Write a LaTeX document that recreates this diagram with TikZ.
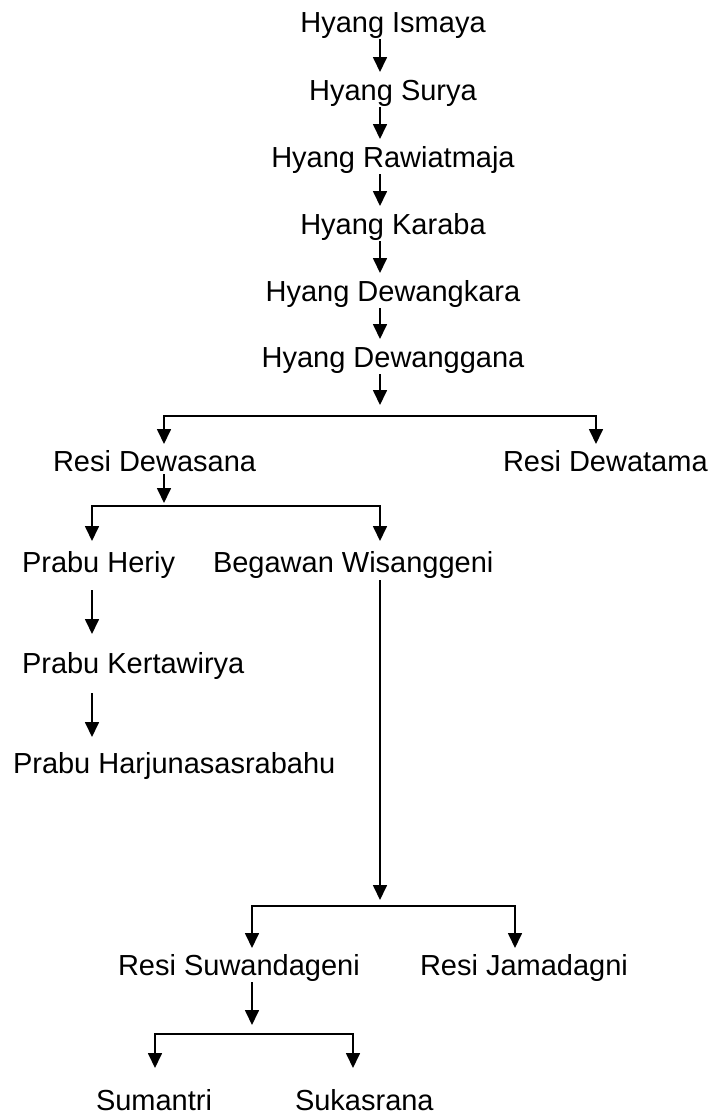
\documentclass[tikz,border=0pt]{standalone}
\usepackage{fontspec}
\setmainfont{Liberation Sans}
\usetikzlibrary{arrows.meta,calc}
\begin{document}
\begin{tikzpicture}[x=1pt,y=-1pt,
  lbl/.style={inner sep=0pt, outer sep=0pt, text height=20pt, text depth=6pt,
              font=\fontsize{29}{31}\selectfont},
  wire/.style={line width=1.7pt},
  arr/.style={wire, -{Triangle[width=14pt,length=15pt]}},
  arrtwo/.style={wire, {Triangle[width=14pt,length=15pt]}-{Triangle[width=14pt,length=15pt]}}]
\useasboundingbox (0,0) rectangle (712,1117);

% ---- direct line of descent ----
\coordinate (spine) at (380,0);
\node[lbl,anchor=base] (ismaya)     at (393,32)  {Hyang Ismaya};
\node[lbl,anchor=base] (surya)      at (393,100) {Hyang Surya};
\node[lbl,anchor=base] (rawi)       at (393,167) {Hyang Rawiatmaja};
\node[lbl,anchor=base] (karaba)     at (393,234) {Hyang Karaba};
\node[lbl,anchor=base] (dewangkara) at (393,301) {Hyang Dewangkara};
\node[lbl,anchor=base] (dewanggana) at (393,367) {Hyang Dewanggana};

\foreach \a/\b in {ismaya/surya, surya/rawi, rawi/karaba, karaba/dewangkara, dewangkara/dewanggana}
  \draw[arr] ([yshift=-1pt]\a.south -| spine) -- ([yshift=8pt]\b.north -| spine);

% ---- children of Hyang Dewanggana ----
\node[lbl,anchor=base west] (dewasana) at (53,471)  {Resi Dewasana};
\node[lbl,anchor=base west] (dewatama) at (503,471) {Resi Dewatama};
\coordinate (t1) at (380,405);
\coordinate (bar1l) at (164,416);
\coordinate (bar1r) at (596,416);
\draw[arr] ([yshift=-1pt]dewanggana.south -| t1) -- (t1);
\draw[arrtwo] ([yshift=7pt]dewasana.north -| bar1l) |- (bar1r)
   -- ([yshift=7pt]dewatama.north -| bar1r);

% ---- children of Resi Dewasana ----
\node[lbl,anchor=base west] (heriy)  at (22,572)  {Prabu Heriy};
\node[lbl,anchor=base west] (wisang) at (213,572) {Begawan Wisanggeni};
\coordinate (t2) at (164,503);
\coordinate (bar2l) at (92,506);
\coordinate (bar2r) at (380,506);
\draw[arr] ([yshift=3pt]dewasana.south -| t2) -- (t2);
\draw[arrtwo] ([yshift=11pt]heriy.north -| bar2l) |- (bar2r)
   -- ([yshift=11pt]wisang.north -| bar2r);

% ---- line of Prabu Heriy ----
\node[lbl,anchor=base west] (kerta)   at (22,673) {Prabu Kertawirya};
\node[lbl,anchor=base west] (harjuna) at (13,773) {Prabu Harjunasasrabahu};
\draw[arr] ([yshift=-12pt]heriy.south -| bar2l) -- ([yshift=19pt]kerta.north -| bar2l);
\draw[arr] ([yshift=-14pt]kerta.south -| bar2l) -- ([yshift=16pt]harjuna.north -| bar2l);

% ---- children of Begawan Wisanggeni ----
\node[lbl,anchor=base west] (suwanda)  at (118,975) {Resi Suwandageni};
\node[lbl,anchor=base west] (jamadagni) at (420,975) {Resi Jamadagni};
\coordinate (t3) at (380,900);
\coordinate (bar3l) at (252,906);
\coordinate (bar3r) at (515,906);
\draw[arr] ([yshift=-2pt]wisang.south -| t3) -- (t3);
\draw[arrtwo] ([yshift=7pt]suwanda.north -| bar3l) |- (bar3r)
   -- ([yshift=7pt]jamadagni.north -| bar3r);

% ---- children of Resi Suwandageni ----
\node[lbl,anchor=base west] (sumantri)  at (96,1110)  {Sumantri};
\node[lbl,anchor=base west] (sukasrana) at (295,1110) {Sukasrana};
\coordinate (t4) at (252,1025);
\coordinate (bar4l) at (155,1034);
\coordinate (bar4r) at (353,1034);
\draw[arr] ([yshift=-1pt]suwanda.south -| t4) -- (t4);
\draw[arrtwo] ([yshift=22pt]sumantri.north -| bar4l) |- (bar4r)
   -- ([yshift=22pt]sukasrana.north -| bar4r);
\end{tikzpicture}
\end{document}
